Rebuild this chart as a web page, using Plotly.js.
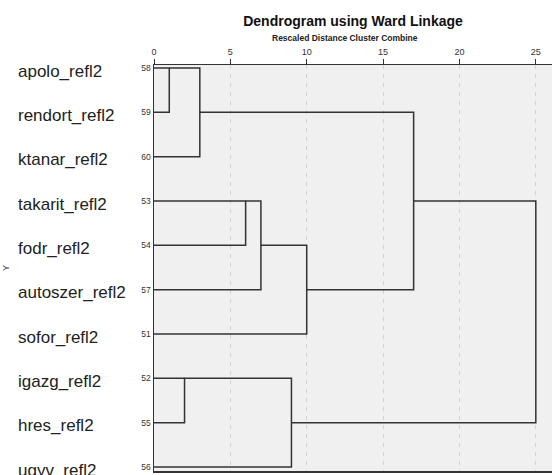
<!DOCTYPE html>
<html>
<head>
<meta charset="utf-8">
<script src="https://cdn.plot.ly/plotly-3.0.1.min.js"></script>
<style>html,body{margin:0;padding:0;background:#fff;}#chart{width:552px;height:475px;}</style>
</head>
<body>
<div id="chart"></div>
<script>
// Leaves in dendrogram order (top to bottom)
const leafNames = ["apolo_refl2","rendort_refl2","ktanar_refl2","takarit_refl2","fodr_refl2","autoszer_refl2","sofor_refl2","igazg_refl2","hres_refl2","ugyv_refl2"];
const caseNumbers = ["58","59","60","53","54","57","51","52","55","56"];
// Merge steps: node ids (0-9 leaves, 10+ new clusters in order) and rescaled distance
const mergeLeft  = [0, 10, 3, 12, 13, 11, 7, 16, 15];
const mergeRight = [1, 2, 4, 5, 6, 14, 8, 9, 17];
const mergeDist  = [1, 3, 6, 7, 10, 17, 2, 9, 25];
const xTicks = [0, 5, 10, 15, 20, 25];

// Build dendrogram segments
const pos = leafNames.map((_, i) => i);
const hgt = leafNames.map(() => 0);
const xs = [], ys = [];
for (let k = 0; k < mergeDist.length; k++) {
  const a = mergeLeft[k], b = mergeRight[k], d = mergeDist[k];
  xs.push(hgt[a], d, d, hgt[b], null);
  ys.push(pos[a], pos[a], pos[b], pos[b], null);
  pos.push(Math.floor((pos[a] + pos[b]) / 2));
  hgt.push(d);
}
const rows = leafNames.map((_, i) => i);

const traces = [{
  x: xs, y: ys, type: 'scatter', mode: 'lines',
  line: {color: '#333333', width: 1.5}, hoverinfo: 'skip', showlegend: false
}];

const annotations = leafNames.map((n, i) => ({
  text: n, xref: 'paper', yref: 'y', x: -0.347, y: i, xanchor: 'left', yanchor: 'middle',
  yshift: -3, showarrow: false, font: {family: 'Liberation Sans, Arial, sans-serif', size: 17, color: '#222222'}
}));
annotations.push({
  text: '<b>Rescaled Distance Cluster Combine</b>', xref: 'x', yref: 'paper', x: 12.5, y: 1, yshift: 27,
  xanchor: 'center', yanchor: 'middle', showarrow: false,
  font: {family: 'Liberation Sans, Arial, sans-serif', size: 8.5, color: '#222222'}
});
annotations.push({
  text: 'Y', xref: 'paper', yref: 'paper', x: -0.372, y: 0.5, textangle: -90,
  xanchor: 'center', yanchor: 'middle', showarrow: false,
  font: {family: 'Liberation Sans, Arial, sans-serif', size: 9, color: '#333333'}
});

const layout = {
  width: 552, height: 475,
  margin: {l: 154, r: 0, t: 65, b: 4, pad: 0},
  paper_bgcolor: '#ffffff', plot_bgcolor: '#f0f0f0',
  title: {text: '<b>Dendrogram using Ward Linkage</b>', x: 0.5, xref: 'paper', y: 1, yref: 'container', yanchor: 'top', pad: {t: 16},
    font: {family: 'Liberation Sans, Arial, sans-serif', size: 14, color: '#111111'}},
  xaxis: {
    side: 'top', range: [0, 26.06], tickvals: xTicks, ticktext: xTicks.map(String),
    ticks: 'outside', ticklen: 5, tickcolor: '#333333', tickwidth: 1,
    showgrid: true, gridcolor: '#d2d2d2', griddash: '4px,5px', gridwidth: 1,
    zeroline: false, showline: true, linecolor: '#333333', linewidth: 1.5, mirror: true,
    tickfont: {family: 'Liberation Sans, Arial, sans-serif', size: 9, color: '#333333'}, fixedrange: true
  },
  yaxis: {
    range: [9.09, -0.068], tickvals: rows, ticktext: caseNumbers, ticks: '',
    showgrid: false, zeroline: false, showline: true, linecolor: '#333333', linewidth: 1.5,
    tickfont: {family: 'Liberation Sans, Arial, sans-serif', size: 8.5, color: '#333333'}, fixedrange: true
  },
  annotations: annotations,
  showlegend: false
};

Plotly.newPlot('chart', traces, layout, {displayModeBar: false, staticPlot: true});
</script>
</body>
</html>
